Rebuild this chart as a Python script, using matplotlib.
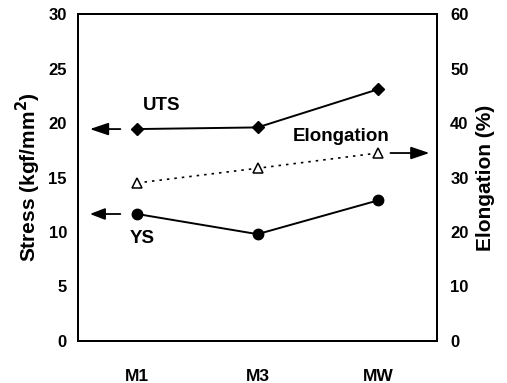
import matplotlib
matplotlib.use('Agg')
import matplotlib.pyplot as plt

plt.rcParams.update({
    'font.family': 'Liberation Sans',
    'font.weight': 'bold',
})

# mechanical properties per alloy
alloys = ['M1', 'M3', 'MW']
uts = [19.45, 19.6, 23.1]
ys = [11.65, 9.8, 12.9]
elongation = [29.0, 31.7, 34.5]

fig = plt.figure(figsize=(5.07, 3.83), dpi=100)
ax = fig.add_axes([0.154, 0.110, 0.708, 0.853])
ax2 = ax.twinx()

x = list(range(len(alloys)))
ax.plot(x, uts, color='black', lw=1.4, marker='D', ms=6)
ax.plot(x, ys, color='black', lw=1.4, marker='o', ms=7.5)
ax2.plot(x, elongation, color='black', lw=1.2, ls=(0, (1.5, 3)),
         marker='^', ms=6.5, mfc='white', mec='black', mew=1.1)

ax.set_xlim(-0.49, 2.49)
ax.set_ylim(0, 30)
ax2.set_ylim(0, 60)
ax.set_yticks(range(0, 31, 5))
ax2.set_yticks(range(0, 61, 10))
ax.set_xticks(x)
ax.set_xticklabels(alloys, fontsize=12.5, fontweight='bold')

ax.tick_params(axis='y', length=0, pad=8, labelsize=12)
ax2.tick_params(axis='y', length=0, pad=9.5, labelsize=12)
ax.tick_params(axis='x', length=0, pad=20)

for a in (ax, ax2):
    for s in a.spines.values():
        s.set_linewidth(1.4)

ax.set_ylabel('Stress (kgf/mm$^\\mathbf{2}$)', fontsize=15, fontweight='bold', labelpad=4)
ax2.set_ylabel('Elongation (%)', fontsize=15, fontweight='bold', labelpad=5)

# arrows pointing to the axis each curve belongs to
big = dict(arrowstyle='-|>,head_length=0.8,head_width=0.27', color='black',
           lw=1.3, mutation_scale=14)
small = dict(arrowstyle='-|>,head_length=0.65,head_width=0.25', color='black',
             lw=1.3, mutation_scale=14)
ax.annotate('', xy=(-0.415, uts[0]), xytext=(-0.116, uts[0]), arrowprops=big)
ax.annotate('', xy=(-0.415, ys[0]), xytext=(-0.116, ys[0]), arrowprops=small)
ax2.annotate('', xy=(2.45, elongation[2]), xytext=(2.08, elongation[2]), arrowprops=big)

ax.text(0.05, 21.65, 'UTS', fontsize=13.5, fontweight='bold', ha='left', va='center')
ax.text(-0.058, 9.4, 'YS', fontsize=13.5, fontweight='bold', ha='left', va='center')
ax.text(1.29, 18.8, 'Elongation', fontsize=13.5, fontweight='bold', ha='left', va='center')

fig.savefig('out.png', dpi=100)
